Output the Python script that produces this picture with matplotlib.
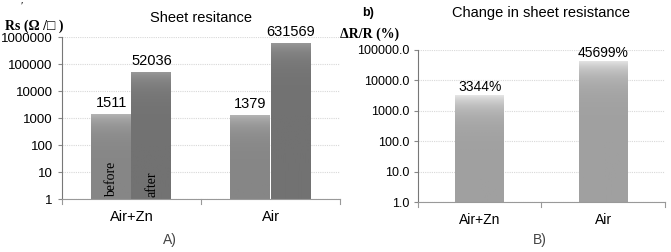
import matplotlib.pyplot as plt
import numpy as np
from matplotlib.colors import LinearSegmentedColormap

# data
groups = ["Air+Zn", "Air"]
before = [1511, 1379]
after = [52036, 631569]
change_pct = [3344, 45699]

left_ticks = [1, 10, 100, 1000, 10000, 100000, 1000000]
right_ticks = [1, 10, 100, 1000, 10000, 100000]

plt.rcParams["font.family"] = ["Liberation Sans", "DejaVu Sans"]


def shade_bars(ax, bars, top, bottom):
    # vertical grey gradient inside each bar, like the original spreadsheet look
    cmap = LinearSegmentedColormap.from_list("g", [bottom, top])
    grad = np.linspace(0, 1, 256).reshape(-1, 1)
    y0 = ax.get_ylim()[0]
    for r in bars:
        r.set_facecolor("none")
        im = ax.imshow(grad, cmap=cmap, origin="lower", aspect="auto",
                       extent=[r.get_x(), r.get_x() + r.get_width(), y0, r.get_height()],
                       zorder=2.5, interpolation="bilinear")
        im.set_clip_path(r)


fig = plt.figure(figsize=(6.71, 2.52), dpi=100)
ax1 = fig.add_axes([0.092, 0.21, 0.415, 0.643])
ax2 = fig.add_axes([0.623, 0.198, 0.368, 0.604])

x = np.arange(len(groups))
w = 0.29

# panel A
b1 = ax1.bar(x - w / 2, before, w, color="#a9a9a9", linewidth=0, zorder=3)
b2 = ax1.bar(x + w / 2, after, w, color="#7f7f7f", linewidth=0, zorder=3)
ax1.set_yscale("log")
ax1.set_ylim(1, 1000000)
ax1.set_xlim(-0.5, 1.5)
shade_bars(ax1, b1, "#bababa", "#868686")
shade_bars(ax1, b2, "#9c9c9c", "#727272")
ax1.set_xlim(-0.5, 1.5)
ax1.set_ylim(1, 1000000)
ax1.set_yticks(left_ticks)
ax1.set_yticklabels([str(t) for t in left_ticks], fontsize=9.5)
ax1.minorticks_off()
ax1.set_xticks(x)
ax1.set_xticklabels(groups, fontsize=10.5)
ax1.tick_params(axis="x", length=0, pad=8)
ax1.tick_params(axis="y", length=3, color="#888888")
for bars in (b1, b2):
    for r in bars:
        h = r.get_height()
        ax1.text(r.get_x() + r.get_width() / 2, h * 1.35, f"{h:d}",
                 ha="center", va="bottom", fontsize=10.5)
ax1.text(b1[0].get_x() + w / 2, 1.15, "before", rotation=90, ha="center",
         va="bottom", fontsize=10, family="Liberation Serif", zorder=4)
ax1.text(b2[0].get_x() + w / 2, 1.15, "after", rotation=90, ha="center",
         va="bottom", fontsize=10, family="Liberation Serif", zorder=4)
ax1.set_title("Sheet resitance", fontsize=10.5, pad=11)

# panel B
w2 = 0.4
b3 = ax2.bar(x, change_pct, w2, color="#c4c4c4", linewidth=0, zorder=3)
ax2.set_yscale("log")
ax2.set_ylim(1, 100000)
ax2.set_xlim(-0.5, 1.5)
shade_bars(ax2, b3, "#ebebeb", "#a0a0a0")
ax2.set_xlim(-0.5, 1.5)
ax2.set_ylim(1, 100000)
ax2.set_yticks(right_ticks)
ax2.set_yticklabels([f"{t:.1f}" for t in right_ticks], fontsize=9)
ax2.minorticks_off()
ax2.set_xticks(x)
ax2.set_xticklabels(groups, fontsize=10)
ax2.tick_params(axis="x", length=0, pad=8)
ax2.tick_params(axis="y", length=3, color="#888888")
for r in b3:
    h = r.get_height()
    ax2.text(r.get_x() + r.get_width() / 2, h * 1.05, f"{h:d}%",
             ha="center", va="bottom", fontsize=10)
ax2.set_title("Change in sheet resistance", fontsize=10.5, pad=24)

for ax in (ax1, ax2):
    ax.grid(axis="y", color="#d8d8d8", linestyle=(0, (1, 1)), linewidth=0.8, zorder=0)
    for s in ("top", "right"):
        ax.spines[s].set_visible(False)
    ax.spines["left"].set_color("#777777")
    ax.spines["bottom"].set_color("#999999")
    # group separator ticks on the category axis
    for xs in (-0.5, 0.5, 1.5):
        ax.plot([xs, xs], [0, -0.03], transform=ax.get_xaxis_transform(),
                color="#999999", lw=0.8, clip_on=False)

fig.text(0.008, 0.88, "Rs (Ω /□ )", fontsize=10, fontweight="bold",
         family="Liberation Serif")
fig.text(0.03, 0.965, "′", fontsize=8, family="Liberation Serif")
fig.text(0.507, 0.85, "ΔR/R (%)", fontsize=10, fontweight="bold",
         family="Liberation Serif")
fig.text(0.54, 0.935, "b)", fontsize=9, fontweight="bold")
fig.text(0.253, 0.03, "A)", fontsize=10, ha="center", color="#444444")
fig.text(0.805, 0.03, "B)", fontsize=10, ha="center", color="#444444")

fig.savefig("out.png", dpi=100)
